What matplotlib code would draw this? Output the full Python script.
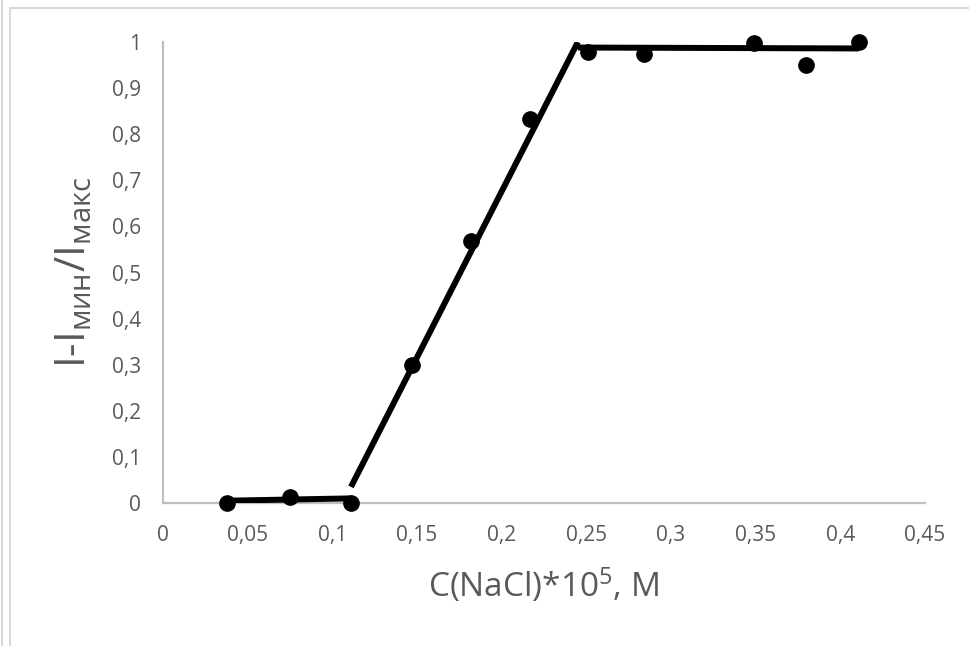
import matplotlib
matplotlib.use('Agg')
import matplotlib.pyplot as plt
import matplotlib.patches as mpatches

plt.rcParams['font.family'] = ['Open Sans', 'DejaVu Sans']
plt.rcParams['mathtext.default'] = 'regular'

GRAY_TXT = '#595959'
GRAY_AX = '#bfbfbf'

# measured points
conc = [0.038, 0.075, 0.111, 0.147, 0.182, 0.217, 0.251, 0.284, 0.349, 0.380, 0.411]
signal = [0.0, 0.013, 0.0, 0.30, 0.568, 0.833, 0.978, 0.974, 0.998, 0.950, 1.0]

# hand-drawn trend segments
seg1_x = [0.038, 0.111]
seg1_y = [0.005, 0.010]
seg2_x = [0.111, 0.245]
seg2_y = [0.035, 1.0]
seg3_x = [0.245, 0.411]
seg3_y = [0.988, 0.986]

xticks = [0, 0.05, 0.1, 0.15, 0.2, 0.25, 0.3, 0.35, 0.4, 0.45]
yticks = [0, 0.1, 0.2, 0.3, 0.4, 0.5, 0.6, 0.7, 0.8, 0.9, 1]

fig = plt.figure(figsize=(9.69, 6.46), dpi=100)
fig.patch.set_facecolor('white')

# chart frame
fig.patches.append(mpatches.Rectangle((10 / 969, -0.05), 1.2, (646 - 8) / 646 + 0.05,
                                      transform=fig.transFigure, fill=False,
                                      edgecolor='#d9d9d9', linewidth=1.5))
fig.patches.append(mpatches.Rectangle((1.5 / 969, -0.05), 0.0, 1.2,
                                      transform=fig.transFigure, fill=False,
                                      edgecolor='#d9d9d9', linewidth=1.2))

ax = fig.add_axes([163 / 969, (646 - 503) / 646, (925 - 163) / 969, (503 - 42) / 646])

for sx, sy in [(seg1_x, seg1_y), (seg2_x, seg2_y), (seg3_x, seg3_y)]:
    ax.plot(sx, sy, color='black', linewidth=4.3, solid_capstyle='butt', zorder=3)
ax.plot(conc, signal, 'o', color='black', markersize=11, zorder=4, clip_on=False)

ax.set_xlim(0, 0.45)
ax.set_ylim(0, 1)
ax.set_xticks(xticks)
ax.set_yticks(yticks)
ax.set_xticklabels([f'{t:g}'.replace('.', ',') for t in xticks])
ax.set_yticklabels([f'{t:g}'.replace('.', ',') for t in yticks])
ax.tick_params(length=0, colors=GRAY_TXT, labelsize=15)
ax.tick_params(axis='x', pad=16)
ax.tick_params(axis='y', pad=16)

for s in ['top', 'right']:
    ax.spines[s].set_visible(False)
for s in ['left', 'bottom']:
    ax.spines[s].set_color(GRAY_AX)
    ax.spines[s].set_linewidth(1.6)

ax.set_xlabel('C(NaCl)*10$^{5}$, M', color=GRAY_TXT, fontsize=24, labelpad=14)
ax.set_ylabel('I-I$_{мин}$/I$_{макс}$', color=GRAY_TXT, fontsize=30, labelpad=12)

plt.savefig('out.png', dpi=100, facecolor='white')
